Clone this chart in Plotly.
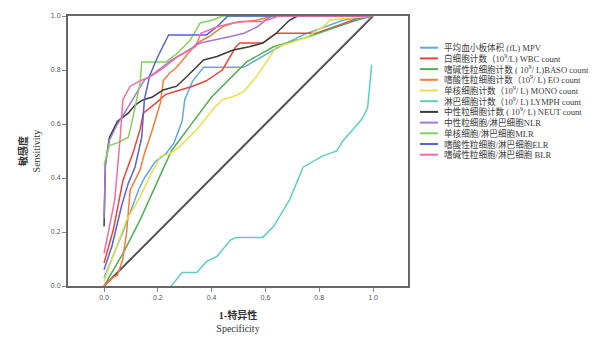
import plotly.graph_objects as go

# ---- data ----
labels = [
    "平均血小板体积 (fL) MPV",
    "白细胞计数（10<sup>9</sup>/L) WBC count",
    "嗜碱性粒细胞计数 ( 10<sup>9</sup>/ L)BASO count",
    "嗜酸性粒细胞计数（10<sup>9</sup>/ L) EO count",
    "单核细胞计数（10<sup>9</sup>/ L) MONO count",
    "淋巴细胞计数（10<sup>9</sup>/ L) LYMPH count",
    "中性粒细胞计数 ( 10<sup>9</sup>/ L) NEUT count",
    "中性粒细胞/淋巴细胞NLR",
    "单核细胞/淋巴细胞MLR",
    "嗜酸性粒细胞/淋巴细胞ELR",
    "嗜碱性粒细胞/淋巴细胞 BLR",
]
colors = ["#5fa8e6", "#e8453c", "#4fae55", "#f47c3c", "#e6e04c", "#5ccfc4",
          "#3a3a3a", "#a07ad8", "#84d060", "#5563d0", "#f06ea0"]

mpv_x = [0, 0.03, 0.07, 0.10, 0.13, 0.15, 0.19, 0.23, 0.26, 0.29, 0.30, 0.33, 0.37, 0.52, 0.57, 0.64, 0.74, 0.82, 0.89, 1.0]
mpv_y = [0.03, 0.10, 0.20, 0.28, 0.36, 0.40, 0.46, 0.49, 0.53, 0.61, 0.69, 0.76, 0.81, 0.81, 0.84, 0.88, 0.93, 0.96, 0.985, 1.0]

wbc_x = [0, 0.035, 0.07, 0.11, 0.134, 0.146, 0.196, 0.23, 0.28, 0.33, 0.38, 0.44, 0.49, 0.505, 0.59, 0.64, 0.69, 0.79, 0.94, 1.0]
wbc_y = [0.085, 0.21, 0.39, 0.50, 0.58, 0.64, 0.68, 0.71, 0.725, 0.74, 0.76, 0.80, 0.886, 0.90, 0.90, 0.936, 0.936, 0.936, 0.99, 1.0]

baso_x = [0, 0.07, 0.134, 0.196, 0.25, 0.31, 0.40, 0.53, 0.63, 0.75, 0.94, 1.0]
baso_y = [0, 0.12, 0.245, 0.38, 0.50, 0.58, 0.70, 0.83, 0.886, 0.92, 0.985, 1.0]

eo_x = [0, 0.03, 0.05, 0.07, 0.084, 0.097, 0.134, 0.15, 0.18, 0.21, 0.22, 0.245, 0.27, 0.295, 0.345, 0.39, 0.44, 0.48, 0.57, 0.63, 1.0]
eo_y = [0, 0.03, 0.04, 0.10, 0.20, 0.355, 0.43, 0.49, 0.58, 0.68, 0.76, 0.79, 0.81, 0.84, 0.90, 0.924, 0.96, 0.974, 0.985, 1.0, 1.0]

mono_x = [0, 0.04, 0.084, 0.134, 0.17, 0.21, 0.245, 0.28, 0.345, 0.41, 0.44, 0.475, 0.52, 0.57, 0.60, 0.62, 0.64, 0.69, 0.75, 0.815, 0.84, 1.0]
mono_y = [0.02, 0.13, 0.245, 0.33, 0.405, 0.48, 0.49, 0.515, 0.58, 0.66, 0.69, 0.70, 0.72, 0.78, 0.825, 0.86, 0.885, 0.90, 0.92, 0.96, 0.985, 1.0]

lymph_x = [0.25, 0.29, 0.345, 0.38, 0.42, 0.47, 0.49, 0.59, 0.63, 0.69, 0.74, 0.81, 0.865, 0.89, 0.925, 0.96, 0.98, 0.995]
lymph_y = [0, 0.05, 0.05, 0.09, 0.11, 0.17, 0.18, 0.18, 0.22, 0.32, 0.44, 0.48, 0.50, 0.54, 0.58, 0.62, 0.66, 0.82]

neut_x = [0, 0.005, 0.02, 0.05, 0.09, 0.115, 0.146, 0.18, 0.22, 0.27, 0.307, 0.37, 0.42, 0.48, 0.54, 0.59, 0.64, 0.69, 0.72, 1.0]
neut_y = [0.22, 0.45, 0.55, 0.61, 0.64, 0.67, 0.69, 0.70, 0.726, 0.74, 0.775, 0.837, 0.85, 0.874, 0.886, 0.90, 0.936, 0.985, 1.0, 1.0]

nlr_x = [0, 0.005, 0.02, 0.05, 0.10, 0.15, 0.19, 0.25, 0.29, 0.357, 0.47, 0.52, 0.57, 0.62, 1.0]
nlr_y = [0.25, 0.45, 0.54, 0.60, 0.68, 0.763, 0.79, 0.837, 0.86, 0.90, 0.924, 0.936, 0.96, 1.0, 1.0]

mlr_x = [0, 0.02, 0.05, 0.09, 0.10, 0.115, 0.134, 0.14, 0.23, 0.27, 0.32, 0.357, 0.405, 0.44, 1.0]
mlr_y = [0.45, 0.52, 0.53, 0.55, 0.59, 0.66, 0.75, 0.83, 0.83, 0.86, 0.91, 0.974, 0.985, 1.0, 1.0]

elr_x = [0, 0.03, 0.066, 0.09, 0.115, 0.14, 0.15, 0.17, 0.20, 0.24, 0.38, 0.42, 0.46, 1.0]
elr_y = [0.06, 0.15, 0.30, 0.38, 0.44, 0.55, 0.69, 0.78, 0.85, 0.93, 0.93, 0.96, 1.0, 1.0]

blr_x = [0, 0.02, 0.04, 0.06, 0.07, 0.097, 0.134, 0.18, 0.21, 0.275, 0.34, 0.36, 0.42, 0.505, 0.59, 0.65, 1.0]
blr_y = [0.12, 0.22, 0.32, 0.55, 0.69, 0.74, 0.76, 0.78, 0.80, 0.85, 0.886, 0.936, 0.96, 0.98, 0.98, 1.0, 1.0]

ref_x = [0, 1]
ref_y = [0, 1]

tick_vals = [0.0, 0.2, 0.4, 0.6, 0.8, 1.0]
tick_text = ["0.0", "0.2", "0.4", "0.6", "0.8", "1.0"]

series = [(mpv_x, mpv_y), (wbc_x, wbc_y), (baso_x, baso_y), (eo_x, eo_y),
          (mono_x, mono_y), (lymph_x, lymph_y), (neut_x, neut_y), (nlr_x, nlr_y),
          (mlr_x, mlr_y), (elr_x, elr_y), (blr_x, blr_y)]

FONT = "Liberation Serif, Noto Sans CJK SC, serif"

fig = go.Figure()
fig.add_trace(go.Scatter(x=ref_x, y=ref_y, mode="lines",
                         line=dict(color="#555555", width=2), showlegend=False))
for (sx, sy), c, name in zip(series, colors, labels):
    fig.add_trace(go.Scatter(x=sx, y=sy, mode="lines", name=name,
                             line=dict(color=c, width=1.5), showlegend=False))

# custom compact legend
L, R, T, B = 68, 408, 16, 286
W, H = R - L, B - T
def px2paper_x(px):
    return (px - L) / W
def px2paper_y(py):
    return (B - py) / H

y0 = 47.7
step = 10.7
for i, (c, name) in enumerate(zip(colors, labels)):
    py = y0 + i * step
    fig.add_shape(type="line", xref="paper", yref="paper",
                  x0=px2paper_x(420), x1=px2paper_x(438),
                  y0=px2paper_y(py), y1=px2paper_y(py),
                  line=dict(color=c, width=2))
    fig.add_annotation(x=px2paper_x(442), y=px2paper_y(py), xref="paper", yref="paper",
                       text=name, showarrow=False, xanchor="left", yanchor="middle",
                       font=dict(family=FONT, size=8.6, color="#3c3c3c"))

axis_common = dict(
    showgrid=False, zeroline=False, showline=True, mirror=True,
    linecolor="#666666", linewidth=2, ticks="outside", ticklen=4,
    tickcolor="#888888", tickwidth=1,
    tickvals=tick_vals, ticktext=tick_text,
    tickfont=dict(family="Liberation Sans, Arial", size=7, color="#555555"),
)
fig.update_layout(
    width=603, height=345,
    margin=dict(l=L, r=603 - R, t=T, b=345 - B),
    paper_bgcolor="white", plot_bgcolor="white",
    xaxis=dict(range=[-0.134, 1.13], **axis_common,
               title=dict(text="<b>1-特异性</b><br>Specificity", standoff=12,
                          font=dict(family=FONT, size=10, color="#333333"))),
    yaxis=dict(range=[0, 1], **axis_common,
               title=dict(text="<b>敏感度</b><br>Sensitivity", standoff=8,
                          font=dict(family=FONT, size=10, color="#333333"))),
)
fig.write_html("out.html")
